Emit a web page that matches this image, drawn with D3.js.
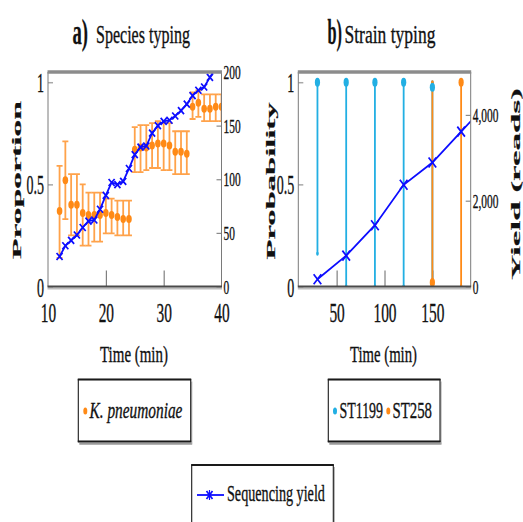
<!DOCTYPE html>
<html>
<head>
<meta charset="utf-8">
<script src="https://cdnjs.cloudflare.com/ajax/libs/d3/7.8.5/d3.min.js"></script>
<style>
  body { margin: 0; background: #fff; }
  svg { display: block; }
  text { font-family: "Liberation Serif", "DejaVu Serif", serif; fill: #111; stroke: #111; stroke-width: 0.35; }
</style>
</head>
<body>
<div id="chart"></div>
<script>
// ---- data ----
// a) species typing: proportion of K. pneumoniae with error bars
var speciesTime = [12, 13, 14, 15, 16, 17, 18, 19, 20, 21, 22, 23, 24,
                   25, 26, 27, 28, 29, 30, 31, 32, 33, 34,
                   35, 36, 37, 38, 39, 40];
var speciesProp = [0.37, 0.52, 0.40, 0.40, 0.36, 0.35, 0.35, 0.35, 0.36, 0.35, 0.34, 0.33, 0.33,
                   0.67, 0.68, 0.68, 0.69, 0.70, 0.70, 0.69, 0.66, 0.66, 0.65,
                   0.88, 0.90, 0.87, 0.87, 0.88, 0.88];
var speciesLow  = [0.14, 0.33, 0.25, 0.25, 0.20, 0.20, 0.22, 0.22, 0.26, 0.26, 0.25, 0.25, 0.25,
                   0.56, 0.56, 0.57, 0.58, 0.58, 0.57, 0.57, 0.55, 0.55, 0.55,
                   0.82, 0.83, 0.81, 0.81, 0.81, 0.81];
var speciesHigh = [0.59, 0.71, 0.55, 0.55, 0.50, 0.46, 0.46, 0.46, 0.43, 0.43, 0.42, 0.42, 0.42,
                   0.78, 0.79, 0.79, 0.80, 0.81, 0.80, 0.80, 0.76, 0.76, 0.76,
                   0.95, 0.96, 0.94, 0.94, 0.94, 0.94];
// sequencing yield (reads) for panel a
var yieldATime = [12, 13, 14, 15, 16, 17, 18, 19, 20, 21, 22, 23, 24, 25, 26,
                  27, 28, 29, 30, 31, 32, 33, 34, 35, 36, 37, 38, 39, 40];
var yieldA = [28, 38, 43, 48, 55, 61, 62, 72, 85, 97, 95, 98, 110, 123, 130,
              131, 143, 150, 154, 155, 159, 164, 170, 178, 183, 186, 195, 204, 210];

// b) strain typing
var st1199Time = [30, 60, 90, 120, 150];
var st1199Prob = [1, 1, 1, 1, 0.975];
var st1199Low  = [0.16, 0, 0, 0, 0];
var st1199High = [1, 1, 1, 1, 1];
var st258Time = [150, 180];
var st258Prob = [0.02, 1];
var st258Low  = [0, 0];
var st258High = [1, 1];
var yieldBTime = [30, 60, 90, 120, 150, 180, 210];
var yieldB = [170, 720, 1430, 2370, 2890, 3610, 4330];

// ticks
var xTicksA = [10, 20, 30, 40];
var xTicksB = [50, 100, 150];
var probTicks = [0, 0.5, 1];
var readTicksA = [0, 50, 100, 150, 200];
var readTicksB = [0, 2000, 4000];

var ORANGE = "#ff8a16", ORANGE_BAR = "#ffa24a", CYAN = "#22afe3", BLUE = "#0d0dff";

var W = 523, H = 522;
var svg = d3.select("#chart").append("svg").attr("width", W).attr("height", H);

// text helper: the picture is squeezed sideways, so every text is condensed
function label(g, str, x, y, o) {
   var t = g.append("text").text(str)
      .attr("font-size", o.size)
      .attr("text-anchor", o.anchor || "start")
      .attr("font-weight", o.weight || "normal")
      .attr("font-style", o.style || "normal");
   var natural = t.node().getComputedTextLength();
   if (o.rot) {
      var sy = o.len ? o.len / natural : 1;
      t.attr("transform", "translate(" + x + "," + y + ") scale(" + o.sx + "," + sy + ") rotate(-90)");
   } else {
      var sx = o.width ? o.width / natural : o.sx;
      t.attr("transform", "translate(" + x + "," + y + ") scale(" + sx + ",1)");
   }
   return t;
}

function hline(g, x0, x1, y, color, w) {
   g.append("line").attr("x1", x0).attr("x2", x1).attr("y1", y).attr("y2", y)
      .attr("stroke", color).attr("stroke-width", w);
}
function vline(g, x, y0, y1, color, w) {
   g.append("line").attr("x1", x).attr("x2", x).attr("y1", y0).attr("y2", y1)
      .attr("stroke", color).attr("stroke-width", w);
}

function frame(g, x0, x1, y0, y1) {
   vline(g, x0, y0, y1, "#7a7a7a", 1);
   vline(g, x1, y0, y1, "#7a7a7a", 1);
   hline(g, x0 - 0.5, x1 + 0.5, y1 + 2, "#bdbdbd", 2);
   hline(g, x0 - 0.5, x1 + 0.5, y1, "#4a4a4a", 2);
   hline(g, x0 - 0.5, x1 + 0.5, y0, "#8c8c8c", 3.5);
}

function legendBox(g, x0, x1, y0, y1) {
   hline(g, x0 + 1, x1 + 1.5, y1 + 2.2, "#9a9a9a", 2);
   vline(g, x1 + 1, y0 + 2, y1 + 2, "#b0b0b0", 1.2);
   g.append("rect").attr("x", x0).attr("y", y0).attr("width", x1 - x0).attr("height", y1 - y0)
      .attr("fill", "#fff").attr("stroke", "#1a1a1a").attr("stroke-width", 1.1);
   hline(g, x0 - 0.5, x1 + 0.5, y0, "#1a1a1a", 2);
   hline(g, x0 - 0.5, x1 + 0.5, y1, "#1a1a1a", 2);
}

function cross(g, x, y, hw, hh) {
   g.append("path")
      .attr("d", "M" + (x - hw) + "," + (y - hh) + "L" + (x + hw) + "," + (y + hh) +
                 "M" + (x - hw) + "," + (y + hh) + "L" + (x + hw) + "," + (y - hh))
      .attr("stroke", BLUE).attr("stroke-width", 1.7).attr("fill", "none");
}

// axes via d3 axis generators, then restyled
function styleAxis(ag, tickColor, tickWidth, fontSize, sx, dx, dy, anchor) {
   ag.select(".domain").remove();
   ag.selectAll(".tick line").attr("stroke", tickColor).attr("stroke-width", tickWidth);
   ag.selectAll(".tick text")
      .attr("x", null).attr("y", null).attr("dy", null)
      .attr("font-size", fontSize).attr("fill", "#111")
      .attr("font-family", "Liberation Serif, serif")
      .attr("text-anchor", anchor)
      .attr("transform", "translate(" + dx + "," + dy + ") scale(" + sx + ",1)");
}

function drawPanel(p) {
   var g = svg.append("g");
   var x = d3.scaleLinear().domain(p.xDomain).range([p.x0, p.x1]);
   var yL = d3.scaleLinear().domain([0, 1.05]).range([p.y1, p.y0]);
   var yR = d3.scaleLinear().domain(p.rDomain).range([p.y1, p.y0]);

   var clipId = "clip" + p.id;
   svg.append("clipPath").attr("id", clipId).append("rect")
      .attr("x", p.x0).attr("y", p.y0).attr("width", p.x1 - p.x0).attr("height", p.y1 - p.y0);

   // bottom axis, ticks pointing inward
   var bx = g.append("g").attr("transform", "translate(0," + p.y1 + ")")
      .call(d3.axisBottom(x).tickValues(p.xTicks).tickSizeInner(-16).tickSizeOuter(0).tickFormat(d3.format("d")));
   styleAxis(bx, "#555", 0.9, 28, 0.55, 0, 35, "middle");
   bx.selectAll(".tick line").filter(function (d) { return d === p.xDomain[0] || d === p.xDomain[1]; }).remove();

   var lx = g.append("g").attr("transform", "translate(" + p.x0 + ",0)")
      .call(d3.axisLeft(yL).tickValues(probTicks).tickSizeInner(-5).tickSizeOuter(0).tickFormat(d3.format("")));
   styleAxis(lx, "#a8a8a8", 1.5, 28, 0.5, -4, 9.5, "end");

   var rx = g.append("g").attr("transform", "translate(" + p.x1 + ",0)")
      .call(d3.axisRight(yR).tickValues(p.rTicks).tickSizeInner(-5).tickSizeOuter(0).tickFormat(d3.format(",")));
   styleAxis(rx, "#8a8a8a", 1.2, 19, 0.6, 2, 6.5, "start");

   var data = g.append("g").attr("clip-path", "url(#" + clipId + ")");
   p.draw(data, x, yL, yR);

   frame(g, p.x0, p.x1, p.y0, p.y1);
   return g;
}

// ---- panel a ----
drawPanel({
   id: "a", x0: 48, x1: 221.5, y0: 72, y1: 286.5,
   xDomain: [10, 40], xTicks: xTicksA, rDomain: [0, 200], rTicks: readTicksA,
   draw: function (g, x, y, yR) {
      speciesTime.forEach(function (t, i) {
         var cx = x(t);
         vline(g, cx, y(speciesLow[i]), y(speciesHigh[i]), ORANGE_BAR, 1.8);
         hline(g, cx - 3, cx + 3, y(speciesLow[i]), ORANGE_BAR, 1.8);
         hline(g, cx - 3, cx + 3, y(speciesHigh[i]), ORANGE_BAR, 1.8);
      });
      g.selectAll("ellipse.sp").data(speciesTime).enter().append("ellipse")
         .attr("cx", function (d) { return x(d); })
         .attr("cy", function (d, i) { return y(speciesProp[i]); })
         .attr("rx", 2.8).attr("ry", 4).attr("fill", ORANGE);
      var line = d3.line().x(function (d) { return x(d); })
         .y(function (d, i) { return yR(yieldA[i]); });
      g.append("path").datum(yieldATime).attr("d", line)
         .attr("fill", "none").attr("stroke", BLUE).attr("stroke-width", 1.8);
      yieldATime.forEach(function (t, i) { cross(g, x(t), yR(yieldA[i]), 3, 3.5); });
   }
});

// ---- panel b ----
drawPanel({
   id: "b", x0: 298.3, x1: 470.7, y0: 72, y1: 286.5,
   xDomain: [10, 190], xTicks: xTicksB, rDomain: [0, 5000], rTicks: readTicksB,
   draw: function (g, x, y, yR) {
      function stems(times, lo, hi, color) {
         times.forEach(function (t, i) {
            vline(g, x(t), y(lo[i]), y(hi[i]), color, 1.8);
            g.append("ellipse").attr("cx", x(t)).attr("cy", y(lo[i])).attr("rx", 1.3).attr("ry", 2).attr("fill", color);
            g.append("ellipse").attr("cx", x(t)).attr("cy", y(hi[i])).attr("rx", 1.3).attr("ry", 2).attr("fill", color);
         });
      }
      function dots(times, vals, color) {
         times.forEach(function (t, i) {
            g.append("ellipse").attr("cx", x(t)).attr("cy", y(vals[i]))
               .attr("rx", 2.6).attr("ry", 4.5).attr("fill", color);
         });
      }
      stems(st1199Time, st1199Low, st1199High, CYAN);
      stems(st258Time, st258Low, st258High, ORANGE);
      dots(st1199Time, st1199Prob, CYAN);
      dots(st258Time, st258Prob, ORANGE);
      var line = d3.line().x(function (d) { return x(d); })
         .y(function (d, i) { return yR(yieldB[i]); });
      g.append("path").datum(yieldBTime).attr("d", line)
         .attr("fill", "none").attr("stroke", BLUE).attr("stroke-width", 1.8);
      yieldBTime.forEach(function (t, i) { cross(g, x(t), yR(yieldB[i]), 3.8, 5); });
   }
});

// ---- titles and axis labels ----
var lab = svg.append("g");
label(lab, "a)", 72.5, 44, { size: 36, weight: "bold", width: 15.5 });
label(lab, "Species typing", 96, 43, { size: 26, width: 94 });
label(lab, "b)", 327.5, 44, { size: 36, weight: "bold", width: 14.5 });
label(lab, "Strain typing", 344.5, 43, { size: 26, width: 91 });

label(lab, "Time (min)", 100, 362, { size: 24, width: 68 });
label(lab, "Time (min)", 350, 362, { size: 24, width: 67 });

label(lab, "Proportion", 21, 180, { size: 26, weight: "bold", anchor: "middle", rot: true, sx: 0.5, len: 158 });
label(lab, "Probability", 274.5, 181, { size: 26, weight: "bold", anchor: "middle", rot: true, sx: 0.5, len: 157 });
label(lab, "Yield (reads)", 520, 184, { size: 26, weight: "bold", anchor: "middle", rot: true, sx: 0.5, len: 192 });

// ---- legends ----
var leg = svg.append("g");
legendBox(leg, 78.3, 190.7, 379.5, 441.5);
leg.append("ellipse").attr("cx", 85.3).attr("cy", 411).attr("rx", 2).attr("ry", 3.5).attr("fill", ORANGE);
label(leg, "K. pneumoniae", 89.5, 417.5, { size: 24, style: "italic", width: 93 });

legendBox(leg, 328.3, 440, 379.5, 441.5);
leg.append("ellipse").attr("cx", 335).attr("cy", 411).attr("rx", 2).attr("ry", 3.5).attr("fill", CYAN);
label(leg, "ST1199", 339.5, 417.5, { size: 24, width: 43.5 });
leg.append("ellipse").attr("cx", 388.3).attr("cy", 411).attr("rx", 2).attr("ry", 3.5).attr("fill", ORANGE);
label(leg, "ST258", 392.5, 417.5, { size: 24, width: 39.5 });

legendBox(leg, 191.7, 333.3, 465, 540);
hline(leg, 197, 224, 495, BLUE, 1.8);
cross(leg, 209.5, 495, 3, 4);
vline(leg, 209.5, 490, 500, BLUE, 1.2);
label(leg, "Sequencing yield", 227, 500.5, { size: 24, width: 98 });
</script>
</body>
</html>
